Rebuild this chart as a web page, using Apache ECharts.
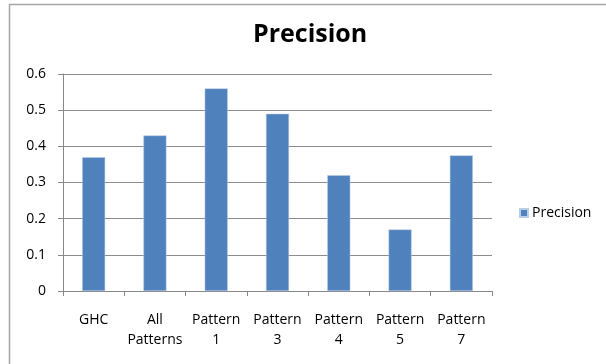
<!DOCTYPE html>
<html>
<head>
<meta charset="utf-8">
<script src="https://cdn.jsdelivr.net/npm/echarts@6/dist/echarts.min.js"></script>
<style>
  html, body { margin: 0; padding: 0; background: #fff; }
  #chart { width: 606px; height: 364px; }
</style>
</head>
<body>
<div id="chart"></div>
<script>
// Precision per method
const categories = ['GHC', 'All\nPatterns', 'Pattern\n1', 'Pattern\n3', 'Pattern\n4', 'Pattern\n5', 'Pattern\n7'];
const precision = [0.37, 0.43, 0.56, 0.49, 0.32, 0.17, 0.375];
const yTicks = { min: 0, max: 0.6, interval: 0.1 };

const FONT = '"Open Sans", "Noto Sans", sans-serif';
const chart = echarts.init(document.getElementById('chart'), null, { renderer: 'canvas' });

chart.setOption({
  animation: false,
  backgroundColor: '#fff',
  graphic: [
    {
      type: 'rect',
      shape: { x: 9.5, y: 4.5, width: 620, height: 380 },
      style: { fill: 'none', stroke: '#a6a6a6', lineWidth: 1.5 },
      silent: true
    },
    {
      type: 'text',
      left: 253,
      top: 22,
      style: {
        text: 'Precision',
        font: 'bold 25px ' + FONT,
        fill: '#000'
      },
      silent: true
    }
  ],
  legend: {
    data: ['Precision'],
    orient: 'vertical',
    left: 514, top: 201,
    itemWidth: 8, itemHeight: 8, itemGap: 4,
    icon: 'rect',
    textStyle: { fontFamily: FONT, fontSize: 14, color: '#000', padding: [0, 0, 0, -1] }
  },
  grid: { left: 63, right: 114, top: 74, bottom: 73, containLabel: false },
  xAxis: {
    type: 'category',
    data: categories,
    boundaryGap: true,
    axisLine: { show: true, lineStyle: { color: '#888', width: 1 } },
    axisTick: { show: true, length: 5, lineStyle: { color: '#888' }, alignWithLabel: false },
    axisLabel: {
      interval: 0, margin: 19, lineHeight: 20,
      fontFamily: FONT, fontSize: 14, color: '#000', verticalAlign: 'top'
    },
    splitLine: { show: false }
  },
  yAxis: {
    type: 'value',
    min: yTicks.min, max: yTicks.max, interval: yTicks.interval,
    axisLine: { show: true, lineStyle: { color: '#888', width: 1 } },
    axisTick: { show: true, length: 5, lineStyle: { color: '#888' } },
    axisLabel: {
      margin: 17, fontFamily: FONT, fontSize: 14, color: '#000',
      formatter: v => (v === 0 ? '0' : v.toFixed(1))
    },
    splitLine: { show: true, lineStyle: { color: '#8c8c8c', width: 1 } }
  },
  series: [{
    name: 'Precision',
    type: 'bar',
    data: precision,
    barWidth: 23,
    itemStyle: { color: '#4f81bd', borderColor: '#b9cde5', borderWidth: 0.5 }
  }]
});
</script>
</body>
</html>
